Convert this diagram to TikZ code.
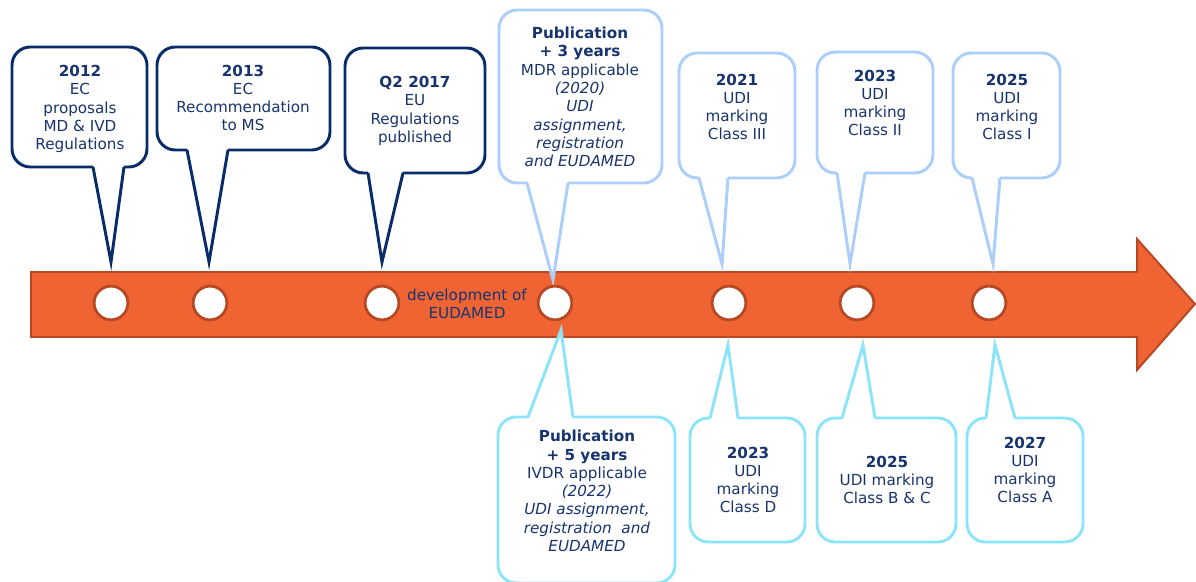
\documentclass[tikz,border=0pt]{standalone}
\usepackage{fontspec}
\setmainfont{DejaVu Sans}
\usetikzlibrary{calc}

\definecolor{arrowfill}{RGB}{240,100,52}
\definecolor{arrowedge}{RGB}{184,72,36}
\definecolor{navyline}{RGB}{8,44,104}
\definecolor{skyline}{RGB}{172,206,250}
\definecolor{cyanline}{RGB}{140,228,250}
\definecolor{txtnavy}{RGB}{24,52,110}

\tikzstyle{timeline} = [fill=arrowfill, 
draw=arrowedge, 
line width=1.4pt]
\tikzstyle{bubble} = [line width=2.1pt, 
fill=white, 
rounded corners=13pt]
\tikzstyle{tail} = [line width=2.1pt]
\tikzstyle{dot} = [circle, 
fill=white, 
draw=arrowedge, 
line width=2pt, 
minimum size=24pt, 
inner sep=0pt]
\tikzstyle{bubbletext} = [align=center, 
text=txtnavy, 
inner sep=0pt, 
font=\fontsize{10.8}{13}\selectfont]

\begin{document}
\begin{tikzpicture}[x=0.025cm, y=-0.025cm]
\useasboundingbox (0,0) rectangle (1196,582);
\clip (0,0) rectangle (1196,582);

% the time line
\draw [timeline] (31,272) -- (1137,272) -- (1137,239) -- (1195,304) -- (1137,370) -- (1137,337) -- (31,337) -- cycle;

% tips of the callouts
\coordinate (tipA) at (111,262);
\coordinate (tipB) at (209,262);
\coordinate (tipC) at (382,262);
\coordinate (tipD) at (553,280);
\coordinate (tipE) at (722,264);
\coordinate (tipF) at (850,264);
\coordinate (tipG) at (993,264);
\coordinate (tipH) at (561,330);
\coordinate (tipI) at (728,345);
\coordinate (tipJ) at (863,345);
\coordinate (tipK) at (995,345);

% callouts above the line
\foreach \L/\T/\R/\B/\a/\b/\tip/\col in {12/47/147/167/93/124/tipA/navyline,
  157/47/330/150/187/228/tipB/navyline,
  345/48/485/173/368/403/tipC/navyline,
  499/10/662/183/527/568/tipD/skyline,
  679/53/795/178/699/728/tipE/skyline,
  817/52/933/173/837/865/tipF/skyline,
  953/53/1060/178/972/1000/tipG/skyline}
{
  \draw [bubble, draw=\col] (\L,\T) rectangle (\R,\B);
  \fill [white] (\a,\B-3) -- (\tip) -- (\b,\B-3) -- cycle;
  \draw [tail, draw=\col] (\a,\B) -- (\tip) -- (\b,\B);
}

% callouts below the line
\foreach \L/\T/\R/\B/\a/\b/\tip in {498/417/675/583/528/573/tipH,
  690/418/805/542/710/738/tipI,
  817/418/956/542/842/875/tipJ,
  967/418/1083/542/986/1015/tipK}
{
  \draw [bubble, draw=cyanline] (\L,\T) rectangle (\R,\B);
  \fill [white] (\a,\T+3) -- (\tip) -- (\b,\T+3) -- cycle;
  \draw [tail, draw=cyanline] (\a,\T) -- (\tip) -- (\b,\T);
}

% milestones
\node (c2012) [dot] at (111,303) {};
\node (c2013) [dot] at (210,303) {};
\node (c2017) [dot] at (382,303) {};
\node (c2020) [dot] at (555,303) {};
\node (c2021) [dot] at (729,303) {};
\node (c2023) [dot] at (857,303) {};
\node (c2025) [dot] at (989,303) {};

% texts
\node (t2012) [bubbletext] at (80,109) {\textbf{2012}\\EC\\proposals\\MD \& IVD\\Regulations};
\node (t2013) [bubbletext] at (243,98) {\textbf{2013}\\EC\\Recommendation\\to MS};
\node (t2017) [bubbletext] at (415,111) {\textbf{Q2 2017}\\EU\\Regulations\\published};
\node (tmdr) [bubbletext] at (580,97) {\textbf{Publication}\\\textbf{+ 3 years}\\MDR applicable\\\textit{(2020)}\\\textit{UDI}\\\textit{assignment,}\\\textit{registration}\\\textit{and EUDAMED}};
\node (t2021) [bubbletext] at (737,107) {\textbf{2021}\\UDI\\marking\\Class III};
\node (t2023) [bubbletext] at (875,103) {\textbf{2023}\\UDI\\marking\\Class II};
\node (t2025) [bubbletext] at (1007,107) {\textbf{2025}\\UDI\\marking\\Class I};
\node (tdev) [bubbletext] at (467,304) {development of\\EUDAMED};
\node (tivdr) [bubbletext] at (587,491) {\textbf{Publication}\\\textbf{+ 5 years}\\IVDR applicable\\\textit{(2022)}\\\textit{UDI assignment,}\\\textit{registration\ \ and}\\\textit{EUDAMED}};
\node (tclassd) [bubbletext] at (748,480) {\textbf{2023}\\UDI\\marking\\Class D};
\node (tclassbc) [bubbletext] at (887,480) {\textbf{2025}\\UDI marking\\Class B \& C};
\node (tclassa) [bubbletext] at (1025,470) {\textbf{2027}\\UDI\\marking\\Class A};

\end{tikzpicture}
\end{document}
